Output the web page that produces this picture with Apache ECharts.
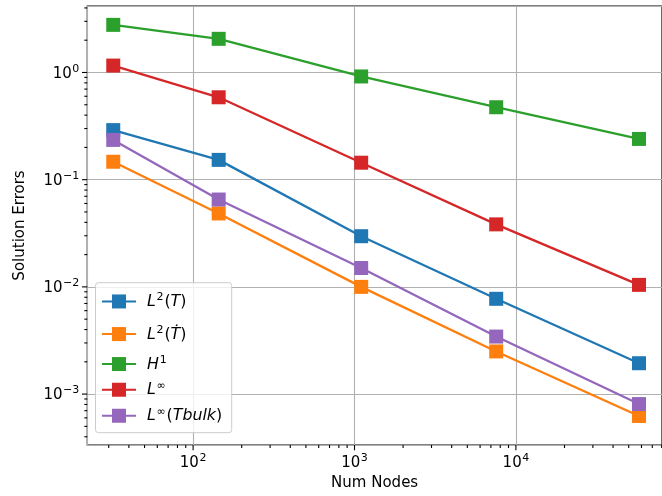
<!DOCTYPE html>
<html><head><meta charset="utf-8">
<script src="https://cdn.jsdelivr.net/npm/echarts@6/dist/echarts.min.js"></script>
<style>html,body{margin:0;padding:0;background:#fff}#c{width:662px;height:496px}</style>
</head><body><div id="c"></div>
<script>
// ---- data ----
const nodes = [32, 144, 1100, 7550, 57900];
const errL2T = [0.29, 0.153, 0.0297, 0.00774, 0.00194];
const errL2Tdot = [0.147, 0.0484, 0.0100, 0.00250, 0.000625];
const errH1 = [2.78, 2.06, 0.918, 0.474, 0.240];
const errLinf = [1.16, 0.587, 0.144, 0.0383, 0.01044];
const errLinfTbulk = [0.235, 0.0653, 0.0150, 0.00344, 0.000807];
const seriesKeys = ['L2T', 'L2Tdot', 'H1', 'Linf', 'LinfTbulk'];
const legendLabels = {
  L2T: '{i|L}{s|2}{n|(}{i|T}{n|)}',
  L2Tdot: '{i|L}{s|2}{n|(}{i|Ṫ}{n|)}',
  H1: '{i|H}{s|1}',
  Linf: '{i|L}{s|∞}',
  LinfTbulk: '{i|L}{s|∞}{n|(}{i|Tbulk}{n|)}'
};
const xMajorTicks = [100, 1000, 10000];
const yMajorTicks = [0.001, 0.01, 0.1, 1];
const xRange = [22.1, 80400];
const yRange = [3.35e-4, 4.17];
const xTitle = 'Num Nodes';
const yTitle = 'Solution Errors';

// ---- styling ----
const FONT = 'DejaVu Sans';
const colors = ['#1f77b4', '#ff7f0e', '#2ca02c', '#d62728', '#9467bd'];
const values = [errL2T, errL2Tdot, errH1, errLinf, errLinfTbulk];
const legendCenters = [300.7, 333.3, 363.3, 389, 415];

function minorTicks(lo, hi) {
  const out = [];
  for (let k = -5; k <= 6; k++) for (let m = 2; m <= 9; m++) {
    const v = m * Math.pow(10, k);
    if (v > lo && v < hi) out.push(v);
  }
  return out;
}
const xMinor = minorTicks(xRange[0], xRange[1]);
const yMinor = minorTicks(yRange[0], yRange[1]);

function powLabel(v) {
  const l = Math.log10(v);
  const e = Math.round(l);
  if (Math.abs(l - e) > 1e-6) return '';
  return '{b|10}{s|' + (e < 0 ? '\u2212' + (-e) : e) + '}';
}
const tickRich = {
  b: { fontFamily: FONT, fontSize: 15, lineHeight: 18, verticalAlign: 'bottom', color: '#000' },
  s: { fontFamily: FONT, fontSize: 11, lineHeight: 11, padding: [0, 0, 7, 0.5], verticalAlign: 'bottom', color: '#000' }
};
const legRich = {
  i: { fontFamily: FONT, fontSize: 15.8, fontStyle: 'italic', lineHeight: 17, verticalAlign: 'bottom', color: '#000' },
  n: { fontFamily: FONT, fontSize: 15.8, lineHeight: 17, verticalAlign: 'bottom', color: '#000' },
  s: { fontFamily: FONT, fontSize: 11, lineHeight: 10, padding: [0, 0.8, 7, 0.8], verticalAlign: 'bottom', color: '#000' }
};

function tickSeries(data, axis, len) {
  return {
    type: 'custom', silent: true, clip: false, z: 3,
    data: data.map(v => axis === 'x' ? [v, yRange[0]] : [xRange[0], v]),
    renderItem: function (params, api) {
      const p = api.coord([api.value(0), api.value(1)]);
      const shape = axis === 'x'
        ? { x1: p[0], y1: p[1], x2: p[0], y2: p[1] + len }
        : { x1: p[0], y1: p[1], x2: p[0] - len, y2: p[1] };
      return { type: 'line', shape: shape, style: { stroke: '#000', lineWidth: 1.1 } };
    }
  };
}

const lineSeries = seriesKeys.map((k, i) => ({
  name: k, type: 'line', z: 2,
  data: nodes.map((n, j) => [n, values[i][j]]),
  symbol: 'rect', symbolSize: 14,
  lineStyle: { color: colors[i], width: 2.3 },
  itemStyle: { color: colors[i] },
  emphasis: { disabled: true }
}));

const legends = seriesKeys.map((k, i) => ({
  data: [k], orient: 'vertical', left: 101, top: legendCenters[i] - 8.75,
  padding: 0, itemWidth: 34, itemHeight: 17.5, z: 8,
  selectedMode: false,
  formatter: name => legendLabels[name],
  textStyle: { padding: [0, 0, 0, 6], rich: legRich }
}));

const chart = echarts.init(document.getElementById('c'), null, { renderer: 'canvas' });
chart.setOption({
  animation: false,
  backgroundColor: '#fff',
  color: colors,
  grid: { left: 87.3, right: -1, top: 6, bottom: 48, show: true, borderColor: '#000', borderWidth: 1.2, backgroundColor: 'transparent' },
  xAxis: {
    type: 'log', logBase: 10, min: xRange[0], max: xRange[1],
    name: xTitle, nameLocation: 'middle', nameGap: 31,
    nameTextStyle: { fontFamily: FONT, fontSize: 15, color: '#000' },
    axisLine: { show: false }, axisTick: { show: false },
    splitLine: { show: true, lineStyle: { color: '#b0b0b0', width: 1.1 } },
    axisLabel: { margin: 8, formatter: powLabel, rich: tickRich, showMinLabel: false, showMaxLabel: false }
  },
  yAxis: {
    type: 'log', logBase: 10, min: yRange[0], max: yRange[1],
    name: yTitle, nameLocation: 'middle', nameGap: 60,
    nameTextStyle: { fontFamily: FONT, fontSize: 15, color: '#000' },
    axisLine: { show: false }, axisTick: { show: false },
    splitLine: { show: true, lineStyle: { color: '#b0b0b0', width: 1.1 } },
    axisLabel: { margin: 8, formatter: powLabel, rich: tickRich, showMinLabel: false, showMaxLabel: false }
  },
  legend: legends,
  graphic: [{
    type: 'rect', z: 7, silent: true,
    shape: { x: 95.5, y: 282.7, width: 136.2, height: 150, r: 3 },
    style: { fill: 'rgba(255,255,255,0.8)', stroke: '#cccccc', lineWidth: 1 }
  }],
  series: lineSeries.concat([
    tickSeries(xMajorTicks, 'x', 5.3),
    tickSeries(yMajorTicks, 'y', 5.3),
    tickSeries(xMinor, 'x', 3),
    tickSeries(yMinor, 'y', 3)
  ])
});
</script></body></html>
